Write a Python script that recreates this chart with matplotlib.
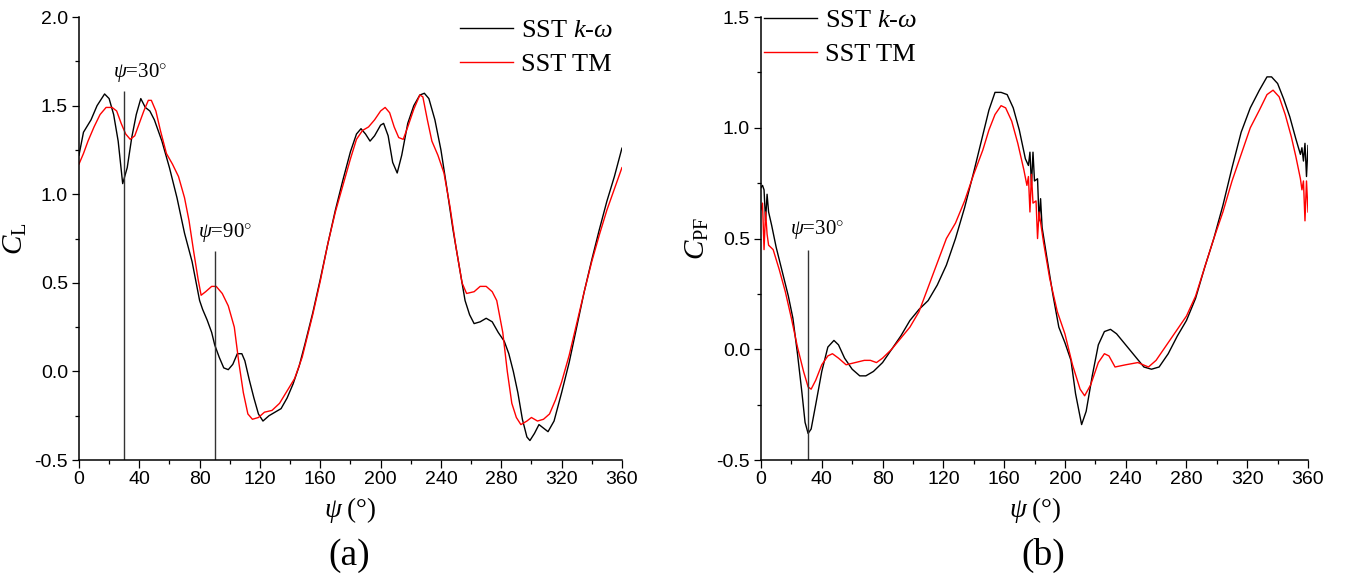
import matplotlib
matplotlib.use("Agg")
import matplotlib.pyplot as plt
from matplotlib.ticker import MultipleLocator

# (a) lift coefficient
psi_cl_kw = [0, 3, 8, 12, 17, 20, 23, 26, 29, 32, 35, 38, 41, 44, 47, 50, 55, 60, 65, 70,
             75, 80, 82, 85, 88, 90, 93, 96, 99, 102, 105, 108, 110, 113, 116, 119, 122,
             126, 130, 134, 138, 142, 146, 150, 155, 160, 165, 170, 175, 180, 184, 187,
             190, 193, 196, 200, 202, 205, 208, 211, 214, 218, 222, 226, 229, 232, 236,
             240, 244, 248, 252, 256, 259, 262, 266, 270, 274, 278, 282, 285, 288, 291,
             294, 297, 299, 302, 305, 308, 311, 315, 320, 325, 330, 335, 340, 345, 350,
             355, 360]
cl_kw = [1.22, 1.35, 1.42, 1.50, 1.566, 1.54, 1.45, 1.30, 1.06, 1.15, 1.32, 1.45, 1.54,
         1.49, 1.47, 1.42, 1.30, 1.15, 0.98, 0.78, 0.62, 0.40, 0.35, 0.29, 0.22, 0.15,
         0.08, 0.02, 0.01, 0.04, 0.10, 0.10, 0.06, -0.05, -0.15, -0.24, -0.28, -0.25,
         -0.23, -0.21, -0.15, -0.07, 0.03, 0.16, 0.33, 0.52, 0.72, 0.91, 1.08, 1.24,
         1.34, 1.37, 1.34, 1.30, 1.33, 1.39, 1.40, 1.33, 1.18, 1.12, 1.22, 1.40, 1.50,
         1.56, 1.57, 1.54, 1.42, 1.25, 1.03, 0.80, 0.60, 0.40, 0.32, 0.27, 0.28, 0.30,
         0.28, 0.22, 0.17, 0.10, 0.00, -0.12, -0.27, -0.37, -0.39, -0.35, -0.30, -0.32,
         -0.34, -0.28, -0.12, 0.05, 0.25, 0.45, 0.63, 0.80, 0.96, 1.10, 1.26]

psi_cl_tm = [0, 3, 6, 10, 14, 18, 22, 25, 28, 31, 34, 37, 40, 43, 46, 48, 51, 54, 58, 62,
             66, 70, 73, 76, 79, 81, 84, 88, 91, 95, 99, 103, 106, 109, 112, 115, 119,
             123, 128, 133, 138, 143, 148, 155, 160, 165, 170, 175, 180, 184, 188, 192,
             196, 200, 203, 206, 209, 212, 215, 218, 222, 226, 228, 231, 234, 238, 242,
             246, 250, 254, 257, 262, 266, 270, 274, 277, 281, 284, 287, 290, 293, 297,
             300, 304, 308, 312, 316, 320, 325, 330, 335, 340, 345, 350, 355, 360]
cl_tm = [1.17, 1.23, 1.30, 1.38, 1.45, 1.49, 1.49, 1.47, 1.40, 1.34, 1.31, 1.33, 1.40,
         1.47, 1.53, 1.53, 1.47, 1.36, 1.23, 1.17, 1.10, 0.98, 0.85, 0.68, 0.52, 0.43,
         0.45, 0.48, 0.48, 0.44, 0.37, 0.25, 0.05, -0.12, -0.24, -0.27, -0.26, -0.23,
         -0.22, -0.18, -0.11, -0.04, 0.08, 0.32, 0.51, 0.72, 0.90, 1.05, 1.20, 1.31,
         1.36, 1.38, 1.42, 1.47, 1.49, 1.46, 1.38, 1.32, 1.31, 1.38, 1.48, 1.56, 1.55,
         1.42, 1.30, 1.22, 1.12, 0.93, 0.70, 0.50, 0.44, 0.45, 0.48, 0.48, 0.45, 0.40,
         0.22, 0.00, -0.18, -0.26, -0.30, -0.28, -0.26, -0.28, -0.27, -0.24, -0.16,
         -0.06, 0.09, 0.27, 0.45, 0.62, 0.77, 0.91, 1.03, 1.15]

# (b) power coefficient
psi_cpf_kw = [0, 1, 2, 3, 4, 5, 7, 10, 14, 18, 21, 24, 27, 29, 31, 33, 36, 40, 44, 48, 51,
              55, 60, 65, 69, 74, 80, 86, 92, 98, 104, 110, 116, 122, 128, 134, 140, 145,
              150, 154, 158, 162, 166, 170, 174, 176, 177, 178, 179, 180, 182, 183, 184,
              185, 188, 192, 196, 200, 204, 207, 211, 214, 218, 222, 226, 230, 234, 240,
              246, 252, 257, 262, 268, 274, 280, 286, 292, 298, 304, 310, 316, 322, 328,
              333, 336, 340, 344, 348, 352, 355, 356, 357, 358, 359, 360]
cpf_kw = [0.73, 0.74, 0.72, 0.58, 0.70, 0.62, 0.56, 0.46, 0.35, 0.24, 0.14, -0.02, -0.20,
          -0.33, -0.38, -0.36, -0.25, -0.10, 0.01, 0.04, 0.02, -0.04, -0.09, -0.12, -0.12,
          -0.10, -0.06, 0.00, 0.06, 0.13, 0.18, 0.22, 0.29, 0.38, 0.50, 0.64, 0.80, 0.94,
          1.08, 1.16, 1.16, 1.15, 1.09, 0.99, 0.86, 0.83, 0.89, 0.74, 0.89, 0.76, 0.77,
          0.58, 0.68, 0.55, 0.42, 0.25, 0.10, 0.03, -0.05, -0.20, -0.34, -0.28, -0.12,
          0.02, 0.08, 0.09, 0.07, 0.02, -0.03, -0.08, -0.09, -0.08, -0.02, 0.06, 0.13,
          0.23, 0.37, 0.50, 0.65, 0.82, 0.98, 1.09, 1.17, 1.23, 1.23, 1.20, 1.13, 1.05,
          0.95, 0.88, 0.91, 0.85, 0.93, 0.78, 0.92]

psi_cpf_tm = [0, 1, 2, 3, 4, 5, 8, 12, 16, 20, 24, 28, 31, 33, 36, 40, 44, 47, 51, 56, 62,
              68, 72, 76, 80, 86, 92, 98, 104, 110, 116, 122, 128, 134, 140, 146, 150, 154,
              158, 161, 165, 169, 173, 175, 176, 177, 178, 179, 181, 182, 183, 186, 190,
              195, 200, 205, 210, 213, 217, 222, 226, 229, 233, 240, 248, 255, 260, 266,
              272, 280, 286, 292, 298, 304, 310, 316, 322, 328, 333, 337, 341, 345, 349,
              352, 355, 356, 357, 358, 359, 360]
cpf_tm = [0.63, 0.66, 0.45, 0.62, 0.52, 0.47, 0.45, 0.36, 0.26, 0.14, 0.01, -0.10, -0.17,
          -0.18, -0.14, -0.07, -0.03, -0.02, -0.04, -0.07, -0.06, -0.05, -0.05, -0.06,
          -0.04, 0.00, 0.05, 0.10, 0.17, 0.28, 0.39, 0.50, 0.57, 0.67, 0.79, 0.90, 0.99,
          1.06, 1.10, 1.09, 1.03, 0.93, 0.81, 0.74, 0.78, 0.62, 0.79, 0.66, 0.67, 0.50,
          0.62, 0.48, 0.32, 0.17, 0.07, -0.07, -0.18, -0.21, -0.16, -0.06, -0.02, -0.03,
          -0.08, -0.07, -0.06, -0.08, -0.05, 0.01, 0.07, 0.15, 0.24, 0.37, 0.50, 0.62,
          0.76, 0.88, 1.00, 1.08, 1.15, 1.17, 1.14, 1.06, 0.96, 0.87, 0.77, 0.72, 0.76,
          0.58, 0.76, 0.62]

SERIF = "Liberation Serif"
SANS = "Liberation Sans"
plt.rcParams["mathtext.fontset"] = "custom"
plt.rcParams["mathtext.rm"] = SERIF
plt.rcParams["mathtext.it"] = SERIF + ":italic"

W, H = 1345, 579


def style_axes(ax, ylim, ylabel):
    ax.set_xlim(0, 360)
    ax.set_ylim(*ylim)
    ax.spines["top"].set_visible(False)
    ax.spines["right"].set_visible(False)
    ax.xaxis.set_major_locator(MultipleLocator(40))
    ax.xaxis.set_minor_locator(MultipleLocator(20))
    ax.yaxis.set_major_locator(MultipleLocator(0.5))
    ax.yaxis.set_minor_locator(MultipleLocator(0.25))
    ax.tick_params(which="major", direction="out", length=5.4, width=0.9,
                   labelsize=14, pad=2.5)
    ax.tick_params(which="minor", direction="out", length=3, width=0.9)
    for lab in ax.get_xticklabels() + ax.get_yticklabels():
        lab.set_fontfamily(SANS)
    ax.yaxis.set_major_formatter(plt.FuncFormatter(lambda v, p: f"{v:.1f}"))
    for sp in ("left", "bottom"):
        ax.spines[sp].set_linewidth(1.1)
    ax.set_xlabel(r"$\psi\;(\mathrm{°})$", fontsize=19.5, labelpad=5)
    ax.set_ylabel(ylabel, fontsize=21, labelpad=4)


def mark(ax, x, top, text, tx):
    ax.vlines(x, ax.get_ylim()[0], top, color="#333333", lw=1.0)
    ax.text(tx, top + 0.04, text, fontsize=15, family=SERIF, ha="left", va="bottom")


def legend(ax, x_px, y_px):
    ax.legend(loc="upper left", bbox_to_anchor=(x_px / W, 1 - y_px / H),
              bbox_transform=fig.transFigure, frameon=False,
              prop={"family": SERIF, "size": 19}, handlelength=2.0,
              handletextpad=0.3, labelspacing=0.38, borderpad=0, borderaxespad=0)


fig = plt.figure(figsize=(W / 100, H / 100), dpi=100)
ax1 = fig.add_axes([0.0587, 0.2055, 0.4037, 0.765])
ax2 = fig.add_axes([0.5658, 0.2055, 0.4067, 0.765])

ax1.plot(psi_cl_kw, cl_kw, color="black", lw=1.0, label=r"SST $k$-$\omega$")
ax1.plot(psi_cl_tm, cl_tm, color="red", lw=1.0, label="SST TM")
style_axes(ax1, (-0.5, 2.0), r"$C_{\mathrm{L}}$")
mark(ax1, 30, 1.58, r"$\psi$=30$^{\circ}$", 22.5)
mark(ax1, 90, 0.68, r"$\psi$=90$^{\circ}$", 79)
legend(ax1, 460, 19)

ax2.plot(psi_cpf_kw, cpf_kw, color="black", lw=1.0, label=r"SST $k$-$\omega$")
ax2.plot(psi_cpf_tm, cpf_tm, color="red", lw=1.0, label="SST TM")
style_axes(ax2, (-0.5, 1.5), r"$C_{\mathrm{PF}}$")
mark(ax2, 31, 0.45, r"$\psi$=30$^{\circ}$", 19)
legend(ax2, 764, 9)

fig.text(349 / W, 0.04, "(a)", fontsize=27, family=SERIF, ha="center", va="center")
fig.text(1043 / W, 0.04, "(b)", fontsize=27, family=SERIF, ha="center", va="center")

fig.savefig("out.png", dpi=100)
